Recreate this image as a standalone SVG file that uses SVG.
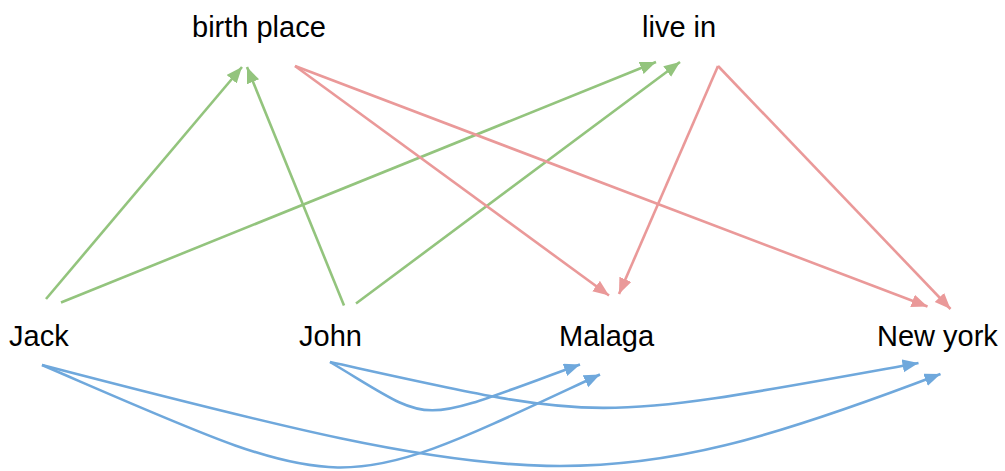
<svg xmlns="http://www.w3.org/2000/svg" width="1005" height="471" viewBox="0 0 1005 471">
<style>
text{font-family:"Liberation Sans",Arial,sans-serif;font-size:29px;fill:#000}
.g{stroke:#93c47d;stroke-width:2.6;fill:none;marker-end:url(#ag)}
.r{stroke:#ea9999;stroke-width:2.6;fill:none;marker-end:url(#ar)}
.b{stroke:#6fa8dc;stroke-width:2.6;fill:none;marker-end:url(#ab)}
</style>
<defs>
<marker id="ag" markerUnits="userSpaceOnUse" markerWidth="17" markerHeight="14" refX="16" refY="6.5" orient="auto"><path d="M0,0 L16,6.5 L0,13 z" fill="#93c47d"/></marker>
<marker id="ar" markerUnits="userSpaceOnUse" markerWidth="17" markerHeight="14" refX="16" refY="6.5" orient="auto"><path d="M0,0 L16,6.5 L0,13 z" fill="#ea9999"/></marker>
<marker id="ab" markerUnits="userSpaceOnUse" markerWidth="17" markerHeight="14" refX="16" refY="6.5" orient="auto"><path d="M0,0 L16,6.5 L0,13 z" fill="#6fa8dc"/></marker>
</defs>
<g id="connectors">
<path class="g" d="M46,299 L242,67"/>
<path class="g" d="M61,302.5 L656,62"/>
<path class="g" d="M344,305.5 L247,67"/>
<path class="g" d="M356,303.5 L680,62"/>
<path class="r" d="M295,66 L609,295.5"/>
<path class="r" d="M295,66 L927.5,306.5"/>
<path class="r" d="M718,66 L619,294"/>
<path class="r" d="M718,66 L950.5,309"/>
<path class="b" d="M42,365 C355,500 330,500 600,374.5"/>
<path class="b" d="M42,365 C530,492 600,504 940.5,374"/>
<path class="b" d="M330,362 C438,426 410,426 580,364.5"/>
<path class="b" d="M330,362 C607,423 585,423 918.5,363"/>
</g>
<g id="birth-place"><text x="192" y="37">birth place</text></g>
<g id="live-in"><text x="642" y="37">live in</text></g>
<g id="jack"><text x="9" y="346">Jack</text></g>
<g id="john"><text x="299" y="346">John</text></g>
<g id="malaga"><text x="559" y="346">Malaga</text></g>
<g id="new-york"><text x="877" y="346">New york</text></g>
</svg>
